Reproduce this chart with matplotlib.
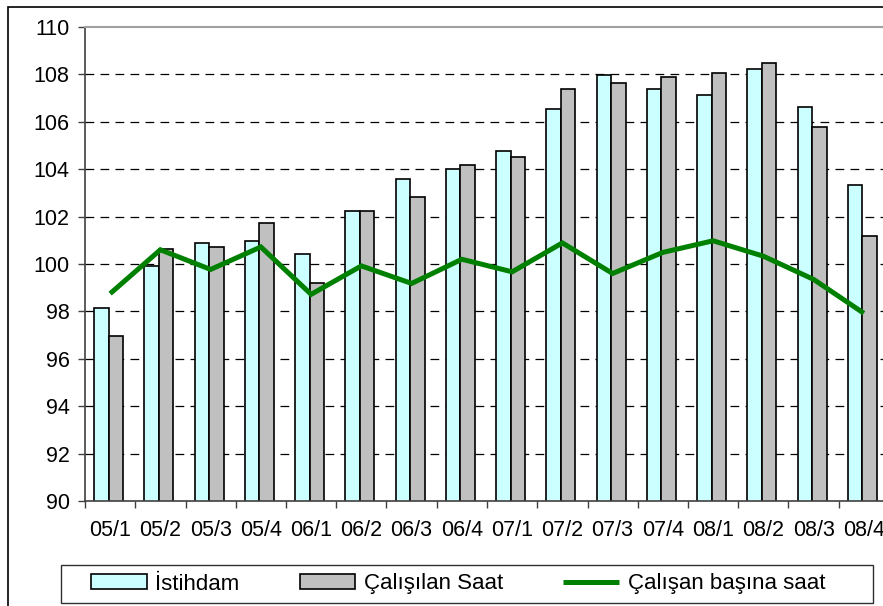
import numpy as np
import matplotlib
matplotlib.use("Agg")
import matplotlib.pyplot as plt
from matplotlib.patches import Rectangle

plt.rcParams['font.family'] = ['Liberation Sans', 'DejaVu Sans']

quarters = ['05/1', '05/2', '05/3', '05/4', '06/1', '06/2', '06/3', '06/4',
            '07/1', '07/2', '07/3', '07/4', '08/1', '08/2', '08/3', '08/4']
istihdam = [98.15, 99.93, 100.87, 100.97, 100.44, 102.23, 103.57, 104.0,
            104.77, 106.55, 107.98, 107.38, 107.11, 108.24, 106.62, 103.33]
calisilan_saat = [96.98, 100.64, 100.70, 101.71, 99.18, 102.23, 102.81, 104.18,
                  104.53, 107.39, 107.63, 107.90, 108.08, 108.49, 105.77, 101.20]
saat_basina = [98.75, 100.6, 99.77, 100.72, 98.72, 99.92, 99.18, 100.2,
               99.67, 100.89, 99.6, 100.49, 100.98, 100.33, 99.35, 97.92]

fig = plt.figure(figsize=(8.83, 6.06), dpi=100)
# plot area runs a bit past the right edge, as in the original crop
ax = fig.add_axes([85 / 883, 1 - 501 / 606, 804 / 883, 474 / 606])

x = np.arange(len(quarters))
w = 0.29
b1 = ax.bar(x - w / 2 - 0.03, istihdam, width=w, color='#CCFFFF', edgecolor='black',
            linewidth=1.2, label='İstihdam', zorder=2)
b2 = ax.bar(x + w / 2 - 0.03, calisilan_saat, width=w, color='#C0C0C0', edgecolor='black',
            linewidth=1.2, label='Çalışılan Saat', zorder=2)
ln, = ax.plot(x, saat_basina, color='#008000', linewidth=3.6, label='Çalışan başına saat',
              zorder=3, solid_joinstyle='miter', solid_capstyle='butt')

ax.set_ylim(90, 110)
ax.set_xlim(-0.5, len(quarters) - 0.5)
ax.set_yticks(np.arange(90, 111, 2))
for yv in np.arange(92, 110, 2):
    ax.axhline(yv, color='black', linewidth=0.9, dashes=(7, 5), zorder=1)

ax.set_xticks(x)
ax.set_xticklabels(quarters)
ax.set_xticks(np.arange(-0.5, len(quarters), 1), minor=True)
ax.tick_params(axis='x', which='major', length=0, pad=14, labelsize=15.5)
ax.tick_params(axis='x', which='minor', length=5, width=1, color='#404040', direction='out')
ax.tick_params(axis='y', length=5, width=1, color='#404040', pad=6, labelsize=15.5)

ax.spines['right'].set_visible(False)
ax.spines['top'].set_color('#A0A0A0')
ax.spines['top'].set_linewidth(1.5)
for s in ('left', 'bottom'):
    ax.spines[s].set_color('#404040')
    ax.spines[s].set_linewidth(1.2)

leg = fig.legend(handles=[b1, b2, ln], loc='center left',
                 bbox_to_anchor=(91 / 883, 1 - 584 / 606), ncol=3, fontsize=16,
                 frameon=False, handlelength=2.5, handleheight=0.65, handletextpad=0.4,
                 columnspacing=2.7, borderpad=0, borderaxespad=0)

# legend frame and outer chart border (its right and bottom edges fall outside the crop)
fig.patches.append(Rectangle((61 / 883, 1 - 603 / 606), 812 / 883, 38 / 606,
                             transform=fig.transFigure, fill=False,
                             edgecolor='#303030', linewidth=1.0))
fig.patches.append(Rectangle((8 / 883, -0.1), 1.2, 1.1 - 7 / 606, transform=fig.transFigure,
                             fill=False, edgecolor='black', linewidth=1.2))

fig.savefig('out.png', dpi=100)
